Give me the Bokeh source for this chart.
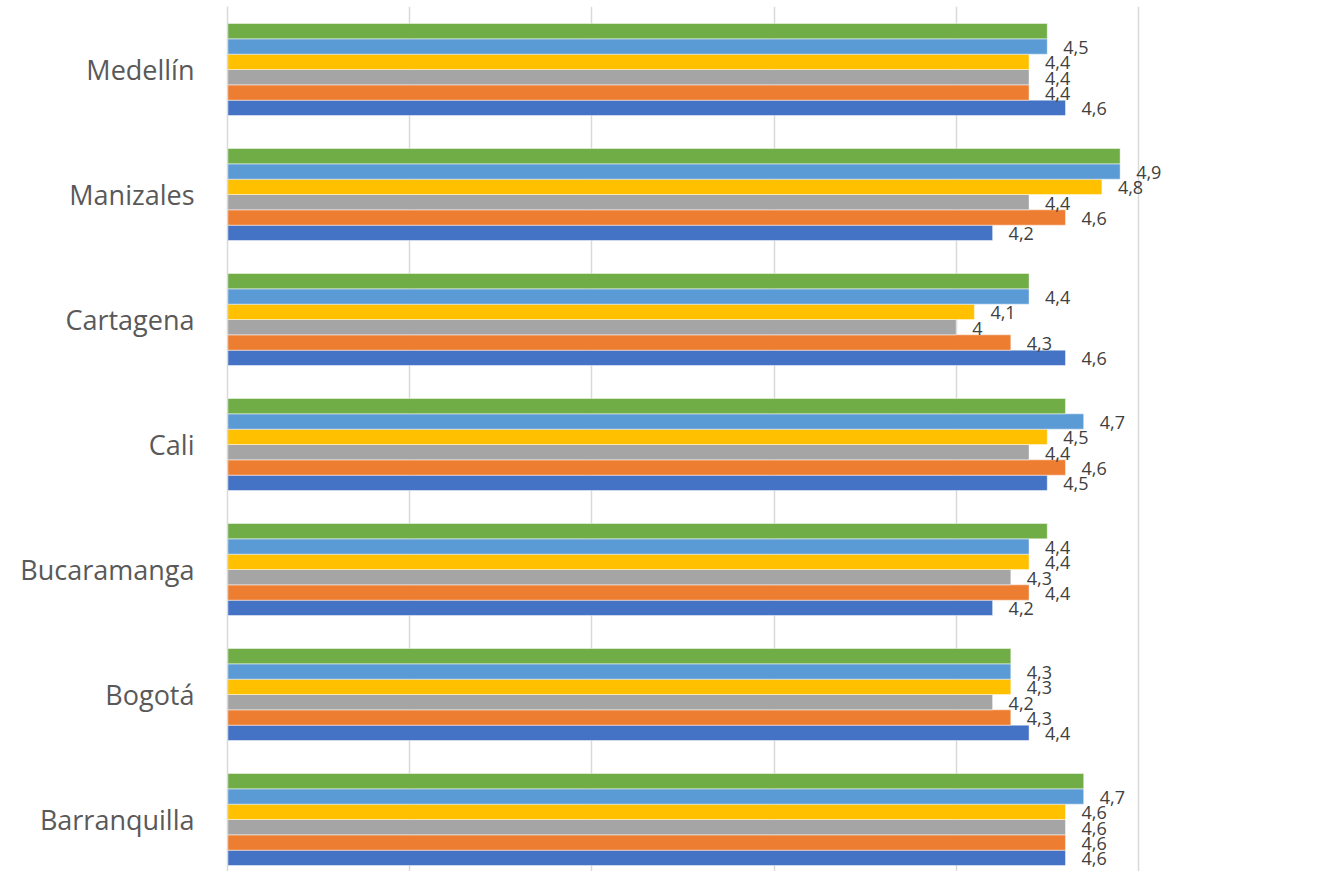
from bokeh.plotting import figure
from bokeh.models import Range1d, FixedTicker, ColumnDataSource
from bokeh.core.properties import value
from bokeh.embed import file_html
from bokeh.resources import INLINE

# Categories, bottom to top
cities = ["Barranquilla", "Bogotá", "Bucaramanga", "Cali", "Cartagena", "Manizales", "Medellín"]

# Series values (bottom bar of each group first)
s1 = [4.6, 4.4, 4.2, 4.5, 4.6, 4.2, 4.6]   # dark blue
s2 = [4.6, 4.3, 4.4, 4.6, 4.3, 4.6, 4.4]   # orange
s3 = [4.6, 4.2, 4.3, 4.4, 4.0, 4.4, 4.4]   # gray
s4 = [4.6, 4.3, 4.4, 4.5, 4.1, 4.8, 4.4]   # yellow
s5 = [4.7, 4.3, 4.4, 4.7, 4.4, 4.9, 4.5]   # light blue
s6 = [4.7, 4.3, 4.5, 4.6, 4.4, 4.9, 4.5]   # green (no labels)

series = [s1, s2, s3, s4, s5, s6]
colors = ["#4472C4", "#ED7D31", "#A5A5A5", "#FFC000", "#5B9BD5", "#70AD47"]
labelled = [True, True, True, True, True, False]

x_ticks = [0, 1, 2, 3, 4, 5, 6]

FONT = "Open Sans"

W, H = 1310, 871
LEFT, TOP = 227, 6
PX_PER_X = 182.17
PX_PER_CAT = 125.0
CAT_BOTTOM_PX = 881.5  # screen y where the category axis value 0 sits

x_end = (W - LEFT) / PX_PER_X
y_top = (CAT_BOTTOM_PX - TOP) / PX_PER_CAT
y_bottom = (CAT_BOTTOM_PX - H) / PX_PER_CAT

p = figure(width=W, height=H, output_backend="svg", toolbar_location=None,
           x_range=Range1d(0, x_end), y_range=Range1d(y_bottom, y_top),
           min_border_left=LEFT, min_border_right=0, min_border_top=TOP, min_border_bottom=0)

group = 0.736
bh = group / len(series)

for i, (vals, col, lab) in enumerate(zip(series, colors, labelled)):
    ys = [k + 0.5 + (i - (len(series) - 1) / 2) * bh for k in range(len(cities))]
    src = ColumnDataSource(dict(
        y=ys, right=vals,
        txt=[f"{v:g}".replace(".", ",") for v in vals],
    ))
    p.hbar(y="y", right="right", left=0, height=bh, source=src,
           fill_color=col, line_color="white", line_alpha=0.45, line_width=1)
    if lab:
        p.text(x="right", y="y", text="txt", source=src, x_offset=16, y_offset=1,
               text_baseline="middle", text_align="left",
               text_font=value(FONT), text_font_size="18px", text_color="#404040")

p.xaxis.visible = False
p.xaxis.ticker = FixedTicker(ticks=x_ticks)
p.xgrid.ticker = FixedTicker(ticks=x_ticks)
p.xgrid.grid_line_color = "#D9D9D9"
p.xgrid.grid_line_width = 1.5
p.ygrid.grid_line_color = None

yax = p.yaxis[0]
yax.ticker = FixedTicker(ticks=[k + 0.5 for k in range(len(cities))])
yax.major_label_overrides = {k + 0.5: c for k, c in enumerate(cities)}
yax.major_tick_line_color = None
yax.minor_tick_line_color = None
yax.axis_line_color = "#D9D9D9"
yax.axis_line_width = 1.5
yax.major_label_standoff = 27
yax.major_label_text_font = FONT
yax.major_label_text_font_size = "27px"
yax.major_label_text_color = "#595959"

p.outline_line_color = None
p.background_fill_color = "white"
p.border_fill_color = "white"

open("out.html", "w").write(file_html(p, INLINE))
